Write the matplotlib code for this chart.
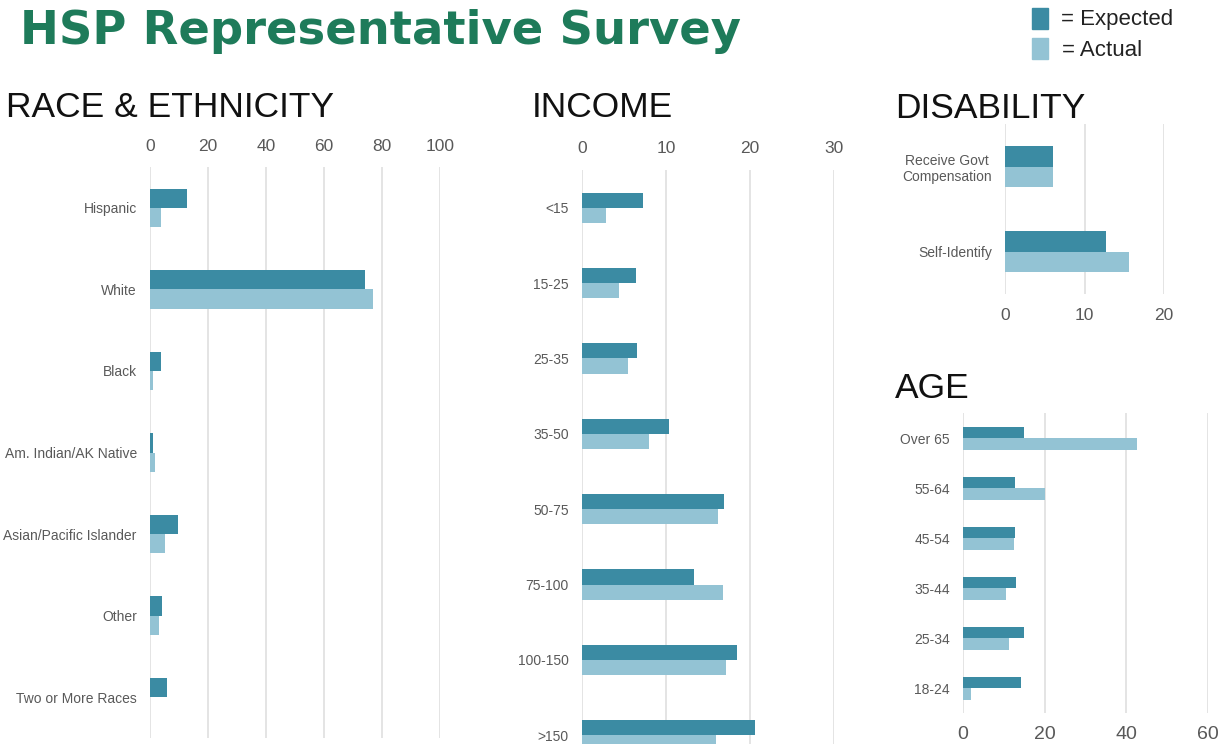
import numpy as np
import matplotlib.pyplot as plt
from matplotlib.patches import Rectangle

plt.rcParams['font.family'] = ['Liberation Sans', 'DejaVu Sans']

W, H = 1225, 744
EXPECTED = '#3b8ba3'
ACTUAL = '#93c3d4'
GRID = '#dcdcdc'
LABEL = '#595959'

# survey data (percent)
race_labels = ['Hispanic', 'White', 'Black', 'Am. Indian/AK Native',
               'Asian/Pacific Islander', 'Other', 'Two or More Races']
race_expected = [12.7, 74.3, 3.8, 1.0, 9.5, 4.2, 5.8]
race_actual = [3.9, 76.8, 1.0, 1.6, 5.2, 3.2, 0.0]

income_labels = ['<15', '15-25', '25-35', '35-50', '50-75', '75-100', '100-150', '>150']
income_expected = [7.3, 6.4, 6.6, 10.4, 16.9, 13.3, 18.4, 20.6]
income_actual = [2.8, 4.4, 5.5, 8.0, 16.2, 16.8, 17.1, 16.0]

disability_labels = ['Receive Govt\nCompensation', 'Self-Identify']
disability_expected = [6.0, 12.7]
disability_actual = [6.0, 15.6]

age_labels = ['Over 65', '55-64', '45-54', '35-44', '25-34', '18-24']
age_expected = [15.0, 12.8, 12.8, 13.1, 15.0, 14.2]
age_actual = [42.7, 20.0, 12.4, 10.5, 11.2, 2.0]


def px_axes(fig, x0, x1, y_top, y_bot):
    # axes placed in pixel coordinates (origin top-left)
    return fig.add_axes([x0 / W, 1 - y_bot / H, (x1 - x0) / W, (y_bot - y_top) / H])


def panel(ax, labels, expected, actual, xmax, step, bar_h, top, tick_size, tick_pad):
    y = np.arange(len(labels))
    ax.barh(y - bar_h / 2, expected, height=bar_h, color=EXPECTED, zorder=3)
    ax.barh(y + bar_h / 2, actual, height=bar_h, color=ACTUAL, zorder=3)
    ax.set_ylim(len(labels) - 0.5, -0.5)
    ax.set_xlim(0, xmax)
    ax.set_xticks(np.arange(0, xmax + 1, step))
    ax.set_yticks(y)
    ax.set_yticklabels(labels, multialignment='center')
    ax.grid(axis='x', color=GRID, linewidth=1.1, zorder=0)
    ax.set_axisbelow(True)
    for s in ax.spines.values():
        s.set_visible(False)
    if top:
        ax.xaxis.tick_top()
    ax.tick_params(axis='x', length=0, labelsize=tick_size, labelcolor=LABEL, pad=tick_pad)
    ax.tick_params(axis='y', length=0, labelsize=10, labelcolor=LABEL, pad=9.5)
    ax.set_facecolor('none')


fig = plt.figure(figsize=(W / 100, H / 100), dpi=100)
fig.patch.set_facecolor('white')

ax1 = px_axes(fig, 150, 440, 167, 738)
panel(ax1, race_labels, race_expected, race_actual, 100, 20, 0.235, True, 12.5, 9.5)

ax2 = px_axes(fig, 582, 834, 170, 773)
panel(ax2, income_labels, income_expected, income_actual, 30, 10, 0.2, True, 12.5, 10)

ax3 = px_axes(fig, 1005, 1164, 124, 294)
panel(ax3, disability_labels, disability_expected, disability_actual, 20, 10, 0.236, False, 12.5, 10)

ax4 = px_axes(fig, 963, 1208, 413, 713)
panel(ax4, age_labels, age_expected, age_actual, 60, 20, 0.23, False, 14, 9.5)

# headings
fig.text(20 / W, 1 - 44 / H, 'HSP Representative Survey', family='DejaVu Sans',
         fontsize=33.5, weight='bold', color='#1e7b5a', va='baseline')
fig.text(6 / W, 1 - 117 / H, 'RACE & ETHNICITY', fontsize=25.5, color='#111111', va='baseline')
fig.text(532 / W, 1 - 117 / H, 'INCOME', fontsize=25.5, color='#111111', va='baseline')
fig.text(895 / W, 1 - 118 / H, 'DISABILITY', fontsize=25.5, color='#111111', va='baseline')
fig.text(895 / W, 1 - 398 / H, 'AGE', fontsize=25.5, color='#111111', va='baseline')

# legend keys
fig.patches.append(Rectangle((1032 / W, 1 - 29 / H), 16 / W, 21 / H,
                             transform=fig.transFigure, color=EXPECTED))
fig.patches.append(Rectangle((1032 / W, 1 - 59 / H), 16 / W, 21 / H,
                             transform=fig.transFigure, color=ACTUAL))
fig.text(1061 / W, 1 - 25.5 / H, '= Expected', fontsize=16, color='#222222', va='baseline')
fig.text(1062 / W, 1 - 56.5 / H, '= Actual', fontsize=16, color='#222222', va='baseline')

fig.savefig('out.png', dpi=100)
